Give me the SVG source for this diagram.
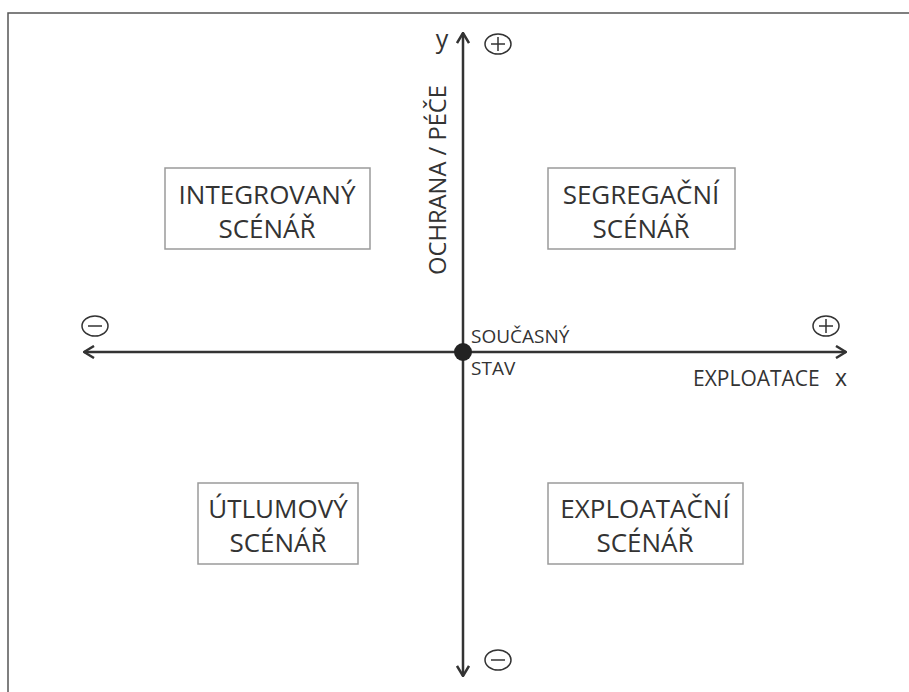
<svg xmlns="http://www.w3.org/2000/svg" width="909" height="692" viewBox="0 0 909 692">
  <style>
    .frame { stroke: #555; stroke-width: 1.5; fill: none; }
    .axis { stroke: #333; stroke-width: 2.5; fill: none; }
    .box { fill: #fff; stroke: #9a9a9a; stroke-width: 1.5; }
    .lbl { font-family: "Open Sans", "DejaVu Sans", sans-serif; fill: #333; }
    .big { font-size: 26px; text-anchor: middle; }
    .sm { font-size: 19px; }
    .sign { fill: none; stroke: #333; stroke-width: 1.5; }
  </style>
  <defs>
    <marker id="arrow" viewBox="0 0 12 14" refX="11" refY="7" markerWidth="12" markerHeight="14" markerUnits="userSpaceOnUse" orient="auto-start-reverse">
      <path d="M1,1 L11,7 L1,13" fill="none" stroke="#333" stroke-width="2.5" stroke-linejoin="miter"/>
    </marker>
  </defs>

  <rect width="909" height="692" fill="#fff"/>

  <!-- page frame (top and left edges) -->
  <path class="frame" d="M8,692 V13 H909"/>

  <!-- axes -->
  <g id="connectors">
    <line class="axis" x1="84" y1="352" x2="846" y2="352" marker-start="url(#arrow)" marker-end="url(#arrow)"/>
    <line class="axis" x1="463" y1="676" x2="463" y2="33" marker-start="url(#arrow)" marker-end="url(#arrow)"/>
  </g>

  <!-- axis signs -->
  <g id="sign-y-plus">
    <ellipse class="sign" cx="498" cy="44" rx="13" ry="10"/>
    <path class="sign" d="M491,44 H505 M498,37 V51"/>
  </g>
  <g id="sign-y-minus">
    <ellipse class="sign" cx="498" cy="660" rx="13" ry="10"/>
    <path class="sign" d="M491,660 H505"/>
  </g>
  <g id="sign-x-plus">
    <ellipse class="sign" cx="826" cy="326" rx="13" ry="10"/>
    <path class="sign" d="M819,326 H833 M826,319 V333"/>
  </g>
  <g id="sign-x-minus">
    <ellipse class="sign" cx="95" cy="326" rx="13" ry="10"/>
    <path class="sign" d="M88,326 H102"/>
  </g>

  <!-- axis labels -->
  <text class="lbl" x="442" y="48" font-size="25" text-anchor="middle">y</text>
  <text class="lbl" x="841" y="386" font-size="23" text-anchor="middle">x</text>
  <text class="lbl" x="693" y="386" font-size="21">EXPLOATACE</text>
  <text class="lbl" font-size="24" text-anchor="middle" textLength="190" lengthAdjust="spacingAndGlyphs" transform="translate(446,180) rotate(-90)">OCHRANA / PÉČE</text>

  <!-- origin -->
  <g id="origin">
    <circle cx="463" cy="352" r="9" fill="#222"/>
    <text class="lbl sm" x="471" y="343">SOUČASNÝ</text>
    <text class="lbl sm" x="471" y="375">STAV</text>
  </g>

  <!-- scenarios -->
  <g id="integrovany">
    <rect class="box" x="165" y="168" width="205" height="81"/>
    <text class="lbl big" x="267" y="204">INTEGROVANÝ</text>
    <text class="lbl big" x="267" y="238">SCÉNÁŘ</text>
  </g>
  <g id="segregacni">
    <rect class="box" x="548" y="168" width="187" height="81"/>
    <text class="lbl big" x="641" y="204">SEGREGAČNÍ</text>
    <text class="lbl big" x="641" y="238">SCÉNÁŘ</text>
  </g>
  <g id="utlumovy">
    <rect class="box" x="198" y="483" width="160" height="81"/>
    <text class="lbl big" x="278" y="518">ÚTLUMOVÝ</text>
    <text class="lbl big" x="278" y="552">SCÉNÁŘ</text>
  </g>
  <g id="exploatacni">
    <rect class="box" x="548" y="483" width="195" height="81"/>
    <text class="lbl big" x="645" y="518">EXPLOATAČNÍ</text>
    <text class="lbl big" x="645" y="552">SCÉNÁŘ</text>
  </g>
</svg>
